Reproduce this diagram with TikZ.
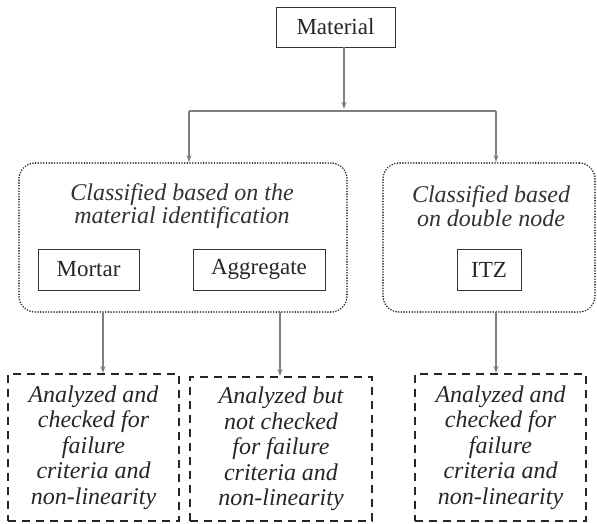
\documentclass[tikz,border=0pt]{standalone}
\usepackage{fontspec}
\setmainfont{Liberation Serif}
\usetikzlibrary{arrows.meta,calc}
\tikzset{
  solidbox/.style={draw=black!80, line width=0.9pt, font=\fontsize{23}{25}\selectfont, inner sep=0pt, text=black!85},
  dotbox/.style={draw=black!85, line width=1.8pt, dash pattern=on 0.01pt off 2.7pt, line cap=round, rounded corners=16pt},
  dashbox/.style={draw=black!85, line width=2pt, dash pattern=on 8pt off 6pt, align=center, inner sep=0pt,
    font=\fontsize{24}{25.5}\selectfont\itshape, text=black!85},
  head/.style={align=center, font=\fontsize{24}{23.5}\selectfont\itshape, text=black!80},
  conn/.style={draw=black!50, line width=1.6pt, -{Stealth[length=7pt,width=5pt]}},
  plain/.style={draw=black!50, line width=1.6pt},
}
\begin{document}
\begin{tikzpicture}[x=1pt,y=-1pt]
\useasboundingbox (0,0) rectangle (597,523);
% top node
\node[solidbox, minimum width=119pt, minimum height=40pt] (mat) at (335.5,27) {Material};
% group boxes
\node[dotbox, minimum width=328pt, minimum height=149pt] (gl) at (183,237.5) {};
\node[dotbox, minimum width=212pt, minimum height=149pt] (gr) at (489,237.5) {};
\node[head] (hl) at (182,206) {Classified based on the\\material identification};
\node[head] (hr) at (491,206) {Classified based\\on double node};
\node[solidbox, minimum width=101pt, minimum height=41pt] (mor) at (88.5,269.5) {Mortar};
\node[solidbox, minimum width=132pt, minimum height=41pt] (agg) at (259,269.5) {Aggregate};
\node[solidbox, minimum width=64pt, minimum height=41pt] (itz) at (489,269.5) {ITZ};
% bottom boxes
\node[dashbox, minimum width=171pt, minimum height=147pt] (b1) at (93.5,447.5) {Analyzed and\\checked for\\failure\\criteria and\\non-linearity};
\node[dashbox, minimum width=182pt, minimum height=144pt] (b2) at (281,449) {Analyzed but\\not checked\\for failure\\criteria and\\non-linearity};
\node[dashbox, minimum width=171pt, minimum height=147pt] (b3) at (500.5,447.5) {Analyzed and\\checked for\\failure\\criteria and\\non-linearity};
% connectors
\coordinate (j) at (344,111);
\coordinate (jl) at (189,111);
\coordinate (jr) at (496,111);
\draw[conn] (mat.south -| j) -- ($(j)+(0,-2)$);
\draw[plain] (jl) -- (jr);
\draw[conn] (jl) -- (jl |- gl.north);
\draw[conn] (jr) -- (jr |- gr.north);
\coordinate (d1) at (103,312);
\coordinate (d2) at (280,312);
\coordinate (d3) at (496,312);
\draw[conn] (d1) -- (d1 |- b1.north);
\draw[conn] (d2) -- (d2 |- b2.north);
\draw[conn] (d3) -- (d3 |- b3.north);
\end{tikzpicture}
\end{document}
